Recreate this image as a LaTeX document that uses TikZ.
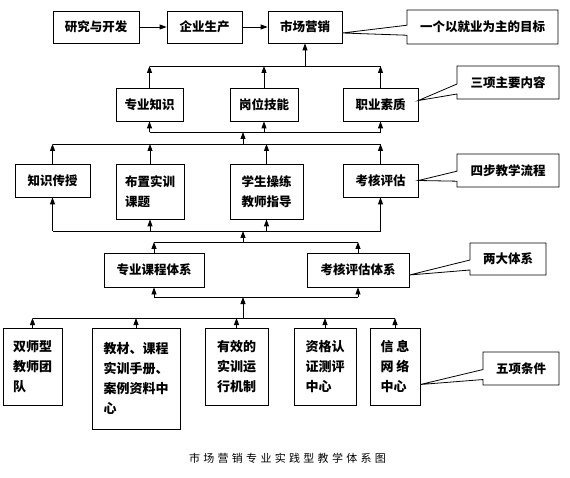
\documentclass[tikz,border=0pt]{standalone}
\usepackage{fontspec}
\setmainfont{Noto Sans CJK SC}
\usetikzlibrary{arrows.meta,shapes.callouts}

\tikzset{
  box/.style={draw=black, line width=0.8pt, inner sep=0pt, align=left,
    font=\bfseries\fontsize{12.5}{20}\selectfont},
  tallbox/.style={box, font=\bfseries\fontsize{13}{20}\selectfont},
  note/.style={rectangle callout, draw=black, fill=white, line width=0.8pt,
    inner sep=0pt, callout pointer width=10pt,
    font=\bfseries\fontsize{12.5}{15}\selectfont},
  uparrow/.style={-{Triangle[length=7pt,width=5pt]}, line width=0.8pt},
  bus/.style={line width=0.8pt}
}

\begin{document}
\begin{tikzpicture}[x=1pt,y=-1pt]
  \fill[white] (0,0) rectangle (570,478);
  \useasboundingbox (0,0) rectangle (570,478);

  % top row
  \node[box, minimum width=86, minimum height=32] (rd) at (96,27) {研究与开发};
  \node[box, minimum width=75, minimum height=32] (prod) at (204.5,27) {企业生产};
  \node[box, minimum width=74, minimum height=32] (mkt) at (305,27) {市场营销};
  \draw[uparrow] (rd) -- (prod);
  \draw[uparrow] (prod) -- (mkt);

  % three contents
  \node[box, minimum width=67, minimum height=33] (know) at (149.5,104.5) {专业知识};
  \node[box, minimum width=68, minimum height=33] (skill) at (264,104.5) {岗位技能};
  \node[box, minimum width=75, minimum height=33] (qual) at (380.5,104.5) {职业素质};

  % four steps
  \node[box, minimum width=75, minimum height=33] (teach) at (52.5,180.5) {知识传授};
  \node[box, minimum width=68, minimum height=55] (task) at (150,191.5) {布置实训\\课题};
  \node[box, minimum width=73, minimum height=55] (drill) at (266.5,191.5) {学生操练\\教师指导};
  \node[box, minimum width=75, minimum height=33] (eval) at (380.5,180.5) {考核评估};

  % two systems
  \node[box, minimum width=100, minimum height=34] (course) at (154,270) {专业课程体系};
  \node[box, minimum width=102, minimum height=34] (assess) at (358,270) {考核评估体系};

  % five conditions
  \node[tallbox, minimum width=59, minimum height=77] (team) at (32.5,366.5) {双师型\\教师团\\队};
  \node[tallbox, minimum width=88, minimum height=101] (mat) at (136,378.5) {教材、课程\\实训手册、\\案例资料中\\心};
  \node[tallbox, minimum width=63, minimum height=77] (mech) at (236.5,366.5) {有效的\\实训运\\行机制};
  \node[tallbox, minimum width=62, minimum height=77] (cert) at (325,366.5) {资格认\\证测评\\中心};
  \node[tallbox, minimum width=50, minimum height=77] (net) at (395,366.5) {信\hspace{3pt}息\\网\hspace{3pt}络\\中心};

  % buses
  \coordinate (b1) at (243,66);
  \coordinate (b2) at (243,132);
  \coordinate (b3) at (243,144);
  \coordinate (b4) at (243,231);
  \coordinate (b5) at (243,242);
  \coordinate (b6) at (243,297);
  \coordinate (b7) at (243,318);

  \draw[bus] (know.north |- b1) -- (qual.north |- b1);
  \foreach \n in {know,skill,qual}
    \draw[uparrow] (\n.north) -- (\n.north |- b1);
  \draw[uparrow] (mkt.south |- b1) -- (mkt.south);

  \draw[bus] (know.south |- b2) -- (qual.south |- b2);
  \foreach \n in {know,skill,qual}
    \draw[uparrow] (\n.south |- b2) -- (\n.south);
  \draw[uparrow] (b3) -- (b2);
  \draw[bus] (teach.north |- b3) -- (eval.north |- b3);
  \foreach \n in {teach,task,drill,eval}
    \draw[uparrow] (\n.north) -- (\n.north |- b3);

  \draw[bus] (teach.south |- b4) -- (eval.south |- b4);
  \foreach \n in {teach,task,drill,eval}
    \draw[uparrow] (\n.south |- b4) -- (\n.south);
  \draw[uparrow] (b5) -- (b4);
  \draw[bus] (course.north |- b5) -- (assess.north |- b5);
  \foreach \n in {course,assess}
    \draw[uparrow] (\n.north) -- (\n.north |- b5);

  \draw[bus] (course.south |- b6) -- (assess.south |- b6);
  \foreach \n in {course,assess}
    \draw[uparrow] (\n.south |- b6) -- (\n.south);
  \draw[uparrow] (b7) -- (b6);
  \draw[bus] (team.north |- b7) -- (net.north |- b7);
  \foreach \n in {team,mat,mech,cert,net}
    \draw[uparrow] (\n.north) -- (\n.north |- b7);

  % callouts
  \node[note, minimum width=151, minimum height=34,
    callout absolute pointer={([yshift=-6pt]mkt.east)}] (goal) at (482.5,27) {一个以就业为主的目标};
  \node[note, minimum width=102, minimum height=33,
    callout absolute pointer={([yshift=4pt]qual.east)}] (three) at (508,82.5) {三项主要内容};
  \node[note, minimum width=102, minimum height=33,
    callout absolute pointer={(eval.east)}] (four) at (508,170.5) {四步教学流程};
  \node[note, minimum width=76, minimum height=32,
    callout absolute pointer={([yshift=-5pt]assess.east)}] (two) at (508,259) {两大体系};
  \node[note, minimum width=76, minimum height=33,
    callout absolute pointer={([yshift=-18pt]net.east)}] (five) at (521,368.5) {五项条件};

  % caption
  \node[font=\fontsize{11}{13}\selectfont\addfontfeatures{LetterSpace=30}] (cap) at (287.5,458) {市场营销专业实践型教学体系图};
\end{tikzpicture}
\end{document}
